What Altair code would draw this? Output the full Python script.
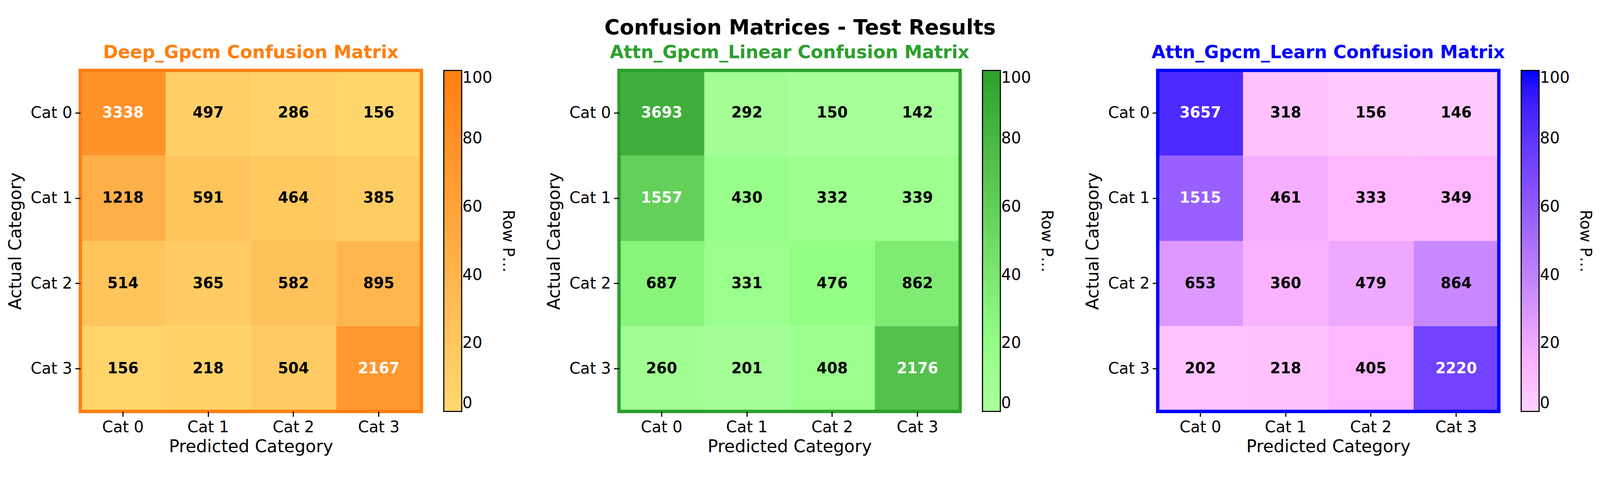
import altair as alt
import pandas as pd

cats = ["Cat 0", "Cat 1", "Cat 2", "Cat 3"]
models = ["Deep_Gpcm", "Attn_Gpcm_Linear", "Attn_Gpcm_Learn"]
colors = ["#ff7f0e", "#2ca02c", "#0000ff"]

deep_gpcm = [
    [3338, 497, 286, 156],
    [1218, 591, 464, 385],
    [514, 365, 582, 895],
    [156, 218, 504, 2167],
]
attn_linear = [
    [3693, 292, 150, 142],
    [1557, 430, 332, 339],
    [687, 331, 476, 862],
    [260, 201, 408, 2176],
]
attn_learn = [
    [3657, 318, 156, 146],
    [1515, 461, 333, 349],
    [653, 360, 479, 864],
    [202, 218, 405, 2220],
]
matrices = [deep_gpcm, attn_linear, attn_learn]

SIZE = 915
FONT = "DejaVu Sans"


def panel(name, mat, color):
    rows = []
    for i, row in enumerate(mat):
        total = sum(row)
        for j, v in enumerate(row):
            rows.append({"actual": cats[i], "pred": cats[j], "count": v,
                         "pct": 100 * v / total})
    df = pd.DataFrame(rows)
    base = alt.Chart(df).encode(
        x=alt.X("pred:N", sort=cats, title="Predicted Category",
                axis=alt.Axis(labelAngle=0, domain=False, tickSize=14, tickWidth=3,
                              tickColor="black", labelFontSize=42, titleFontSize=46,
                              labelFont=FONT, titleFont=FONT, titleFontWeight="normal",
                              labelPadding=8, titlePadding=10, labelColor="black")),
        y=alt.Y("actual:N", sort=cats, title="Actual Category",
                axis=alt.Axis(domain=False, tickSize=14, tickWidth=3, tickColor="black",
                              labelFontSize=42, titleFontSize=46, labelFont=FONT,
                              titleFont=FONT, titleFontWeight="normal", labelPadding=8,
                              titlePadding=16, labelColor="black")),
    )
    rect = base.mark_rect().encode(
        color=alt.Color("pct:Q", scale=alt.Scale(domain=[0, 100], range=["#ffffff", color]),
                        legend=alt.Legend(title="Row Percentage (%)", gradientLength=SIZE,
                                          gradientThickness=48, titleOrient="right",
                                          titleFontSize=42, labelFontSize=42,
                                          titleFont=FONT, labelFont=FONT,
                                          titleFontWeight="normal", values=[0, 20, 40, 60, 80, 100],
                                          gradientStrokeColor="black", gradientStrokeWidth=3,
                                          offset=60, titlePadding=20, labelColor="black",
                                          titleColor="black"))
    )
    text = base.mark_text(fontSize=40, fontWeight="bold", font=FONT).encode(
        text="count:Q",
        color=alt.condition("datum.pct > 50", alt.value("white"), alt.value("black")),
    )
    border = alt.Chart(pd.DataFrame({"a": [0]})).mark_rect(
        fill=None, stroke=color, strokeWidth=9
    ).encode(x=alt.value(0), y=alt.value(0), x2=alt.value(SIZE), y2=alt.value(SIZE))
    return alt.layer(rect, text, border).properties(
        width=SIZE, height=SIZE,
        title=alt.TitleParams(f"{name} Confusion Matrix", color=color, fontSize=48,
                              font=FONT, fontWeight="bold", offset=18),
    )


panels = [panel(n, m, c) for n, m, c in zip(models, matrices, colors)]
chart = (
    alt.hconcat(*panels, spacing=80)
    .resolve_scale(color="independent")
    .properties(
        title=alt.TitleParams("Confusion Matrices - Test Results", fontSize=56,
                              font=FONT, fontWeight="bold", anchor="middle", offset=14),
        padding={"left": 10, "top": 10, "right": 10, "bottom": 10},
    )
    .configure_view(stroke=None)
)
chart.save("out.html", embed_options={"renderer": "svg", "actions": False})
